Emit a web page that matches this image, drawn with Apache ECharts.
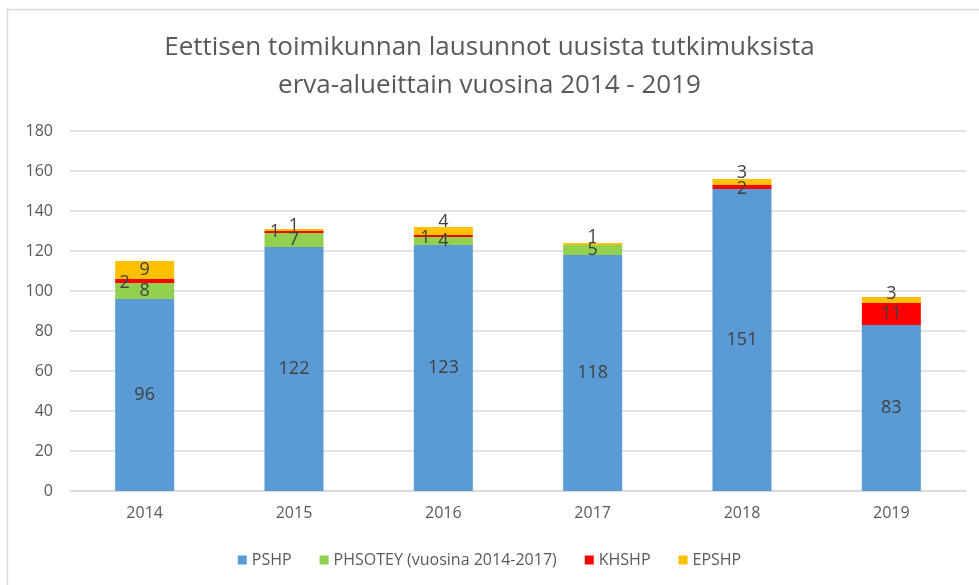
<!DOCTYPE html>
<html>
<head>
<meta charset="utf-8">
<script src="https://cdn.jsdelivr.net/npm/echarts@6/dist/echarts.min.js"></script>
<style>
  html, body { margin: 0; padding: 0; background: #fff; }
  #chart { width: 979px; height: 585px; }
</style>
</head>
<body>
<div id="chart"></div>
<script>
// vuodet ja sarjat
var years = ['2014', '2015', '2016', '2017', '2018', '2019'];
var pshp = [96, 122, 123, 118, 151, 83];
var phsotey = [8, 7, 4, 5, 0, 0];
var khshp = [2, 1, 1, 0, 2, 11];
var epshp = [9, 1, 4, 1, 3, 3];
var yTicks = [0, 20, 40, 60, 80, 100, 120, 140, 160, 180];

// pienten osien tunnisteiden siirrot (kuten alkuperäisessä käsin siirretty)
var labelShift = {
  PHSOTEY: { 2: [0, 2] },
  KHSHP: { 0: [-20, 2], 1: [-19, 0], 2: [-18, 2], 4: [0, 2] },
  EPSHP: { 1: [0, -4], 2: [0, -9], 3: [0, -7], 4: [0, -9], 5: [0, -6] }
};

function makeData(name, values) {
  return values.map(function (v, i) {
    var s = labelShift[name] && labelShift[name][i];
    var item = { value: v };
    if (s) item.label = { offset: s };
    return item;
  });
}

function makeSeries(name, values, color) {
  return {
    name: name,
    type: 'bar',
    stack: 'total',
    barWidth: 59,
    itemStyle: { color: color },
    label: {
      show: true,
      position: 'inside',
      color: '#404040',
      fontSize: 18,
      fontFamily: 'Open Sans',
      formatter: function (p) { return p.value ? p.value : ''; }
    },
    data: makeData(name, values)
  };
}

var chart = echarts.init(document.getElementById('chart'));

chart.setOption({
  animation: false,
  backgroundColor: '#fff',
  graphic: [{
    type: 'rect',
    shape: { x: 7.5, y: 9.5, width: 1000, height: 600 },
    style: { fill: 'none', stroke: '#d9d9d9', lineWidth: 1.5 },
    silent: true,
    z: -1
  }],
  title: {
    text: 'Eettisen toimikunnan lausunnot uusista tutkimuksista\nerva-alueittain vuosina 2014 - 2019',
    left: 'center',
    top: 24,
    textStyle: {
      fontFamily: 'Open Sans',
      fontSize: 26,
      fontWeight: 'normal',
      color: '#595959',
      lineHeight: 38
    }
  },
  legend: {
    bottom: 12,
    left: 'center',
    itemWidth: 9,
    itemHeight: 9,
    itemGap: 28,
    icon: 'rect',
    textStyle: { fontFamily: 'Open Sans', fontSize: 16, color: '#595959' },
    data: ['PSHP', 'PHSOTEY (vuosina 2014-2017)', 'KHSHP', 'EPSHP']
  },
  grid: { left: 70, right: 13, top: 131, bottom: 94 },
  xAxis: {
    type: 'category',
    data: years,
    axisLine: { lineStyle: { color: '#d9d9d9', width: 1.5 } },
    axisTick: { show: false },
    axisLabel: { fontFamily: 'Open Sans', fontSize: 16, color: '#595959', margin: 14 }
  },
  yAxis: {
    type: 'value',
    min: yTicks[0],
    max: yTicks[yTicks.length - 1],
    interval: 20,
    axisLine: { show: false },
    axisTick: { show: false },
    splitLine: { lineStyle: { color: '#d9d9d9', width: 1.5 } },
    axisLabel: { fontFamily: 'Open Sans', fontSize: 16, color: '#595959', margin: 17 }
  },
  series: [
    makeSeries('PSHP', pshp, '#5b9bd5'),
    makeSeries('PHSOTEY (vuosina 2014-2017)', phsotey, '#92d050'),
    makeSeries('KHSHP', khshp, '#ff0000'),
    makeSeries('EPSHP', epshp, '#ffc000')
  ]
});
</script>
</body>
</html>
